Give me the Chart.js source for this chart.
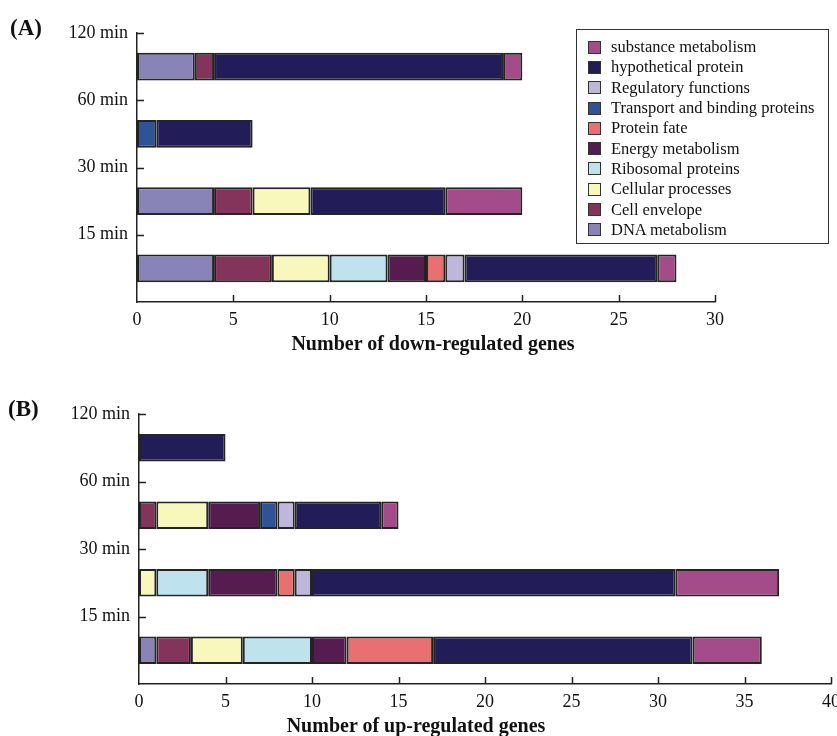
<!DOCTYPE html>
<html>
<head>
<meta charset="utf-8">
<script src="https://cdn.jsdelivr.net/npm/chart.js@4/dist/chart.umd.min.js"></script>
<style>
  html, body { margin: 0; padding: 0; background: #fff; overflow: hidden; }
  #wrap { position: relative; width: 837px; height: 736px; overflow: hidden; font-family: "Liberation Serif", "Times New Roman", serif; color: #111; }
  .pane { position: absolute; left: 0; }
  .panel-tag { position: absolute; font-weight: bold; font-size: 23px; line-height: 1; }
  .axis-title { position: absolute; font-weight: bold; font-size: 20px; line-height: 1; white-space: nowrap; transform: translateX(-50%); }
  #legend { position: absolute; left: 576px; top: 29px; width: 253px; height: 215px; border: 1.5px solid #333; box-sizing: border-box; padding-top: 7px; }
  .lg-row { display: flex; align-items: center; height: 20.3px; padding-left: 11px; font-size: 16.5px; white-space: nowrap; }
  .lg-box { width: 13px; height: 13px; border: 1px solid #333; box-sizing: border-box; margin-right: 10px; flex: none; }
</style>
</head>
<body>
<div id="wrap">
  <div class="pane" style="top:0;width:837px;height:360px"><canvas id="chartA" width="837" height="360"></canvas></div>
  <div class="pane" style="top:380px;width:880px;height:356px"><canvas id="chartB" width="880" height="356"></canvas></div>
  <div class="panel-tag" style="left:10px;top:16px">(A)</div>
  <div class="panel-tag" style="left:8px;top:397px">(B)</div>
  <div class="axis-title" style="left:433px;top:333px">Number of down-regulated genes</div>
  <div class="axis-title" style="left:416px;top:715px">Number of up-regulated genes</div>
  <div id="legend"></div>
</div>
<script>
// Time points, listed top to bottom
const timePoints = ['120 min', '60 min', '30 min', '15 min'];

// Functional categories in stacking order (left to right inside a bar)
const categories = [
  'DNA metabolism',
  'Cell envelope',
  'Cellular processes',
  'Ribosomal proteins',
  'Energy metabolism',
  'Protein fate',
  'Transport and binding proteins',
  'Regulatory functions',
  'hypothetical protein',
  'substance metabolism'
];

const categoryColors = [
  '#8884b8', '#84345a', '#f8f8bc', '#bee3ee', '#561c4f',
  '#e87070', '#2e5396', '#bfb7d9', '#221c58', '#a44c8a'
];

// Down-regulated gene counts per category, values for [120, 60, 30, 15 min]
const downDNA        = [3, 0, 4, 4];
const downEnvelope   = [1, 0, 2, 3];
const downCellular   = [0, 0, 3, 3];
const downRibosomal  = [0, 0, 0, 3];
const downEnergy     = [0, 0, 0, 2];
const downFate       = [0, 0, 0, 1];
const downTransport  = [0, 1, 0, 0];
const downRegulatory = [0, 0, 0, 1];
const downHypo       = [15, 5, 7, 10];
const downSubstance  = [1, 0, 4, 1];

// Up-regulated gene counts per category, values for [120, 60, 30, 15 min]
const upDNA        = [0, 0, 0, 1];
const upEnvelope   = [0, 1, 0, 2];
const upCellular   = [0, 3, 1, 3];
const upRibosomal  = [0, 0, 3, 4];
const upEnergy     = [0, 3, 4, 2];
const upFate       = [0, 0, 1, 5];
const upTransport  = [0, 1, 0, 0];
const upRegulatory = [0, 1, 1, 0];
const upHypo       = [5, 5, 21, 15];
const upSubstance  = [0, 1, 6, 4];

const downSeries = [downDNA, downEnvelope, downCellular, downRibosomal, downEnergy,
                    downFate, downTransport, downRegulatory, downHypo, downSubstance];
const upSeries = [upDNA, upEnvelope, upCellular, upRibosomal, upEnergy,
                  upFate, upTransport, upRegulatory, upHypo, upSubstance];

const xTicksDown = { max: 30, step: 5 };
const xTicksUp = { max: 40, step: 5 };

// Legend, listed in reverse stacking order
const legend = document.getElementById('legend');
for (let i = categories.length - 1; i >= 0; i--) {
  const row = document.createElement('div');
  row.className = 'lg-row';
  const box = document.createElement('span');
  box.className = 'lg-box';
  box.style.background = categoryColors[i];
  const txt = document.createElement('span');
  txt.textContent = categories[i];
  row.appendChild(box);
  row.appendChild(txt);
  legend.appendChild(row);
}

// Tick marks drawn on the inner side of both axes
const inwardTicks = {
  id: 'inwardTicks',
  afterDraw(chart) {
    const { ctx } = chart;
    const xs = chart.scales.x, ys = chart.scales.y;
    const len = 7;
    ctx.save();
    ctx.strokeStyle = '#222';
    ctx.lineWidth = 1.5;
    ctx.beginPath();
    xs.ticks.forEach((t, i) => {
      if (i === 0) return;
      const px = Math.round(xs.getPixelForTick(i)) + 0.5;
      ctx.moveTo(px, ys.bottom);
      ctx.lineTo(px, ys.bottom - len);
    });
    const half = (ys.getPixelForValue(1) - ys.getPixelForValue(0)) / 2;
    timePoints.forEach((_, i) => {
      const py = Math.round(ys.getPixelForValue(i) - half) + 0.5;
      ctx.moveTo(xs.left, py);
      ctx.lineTo(xs.left + len, py);
    });
    ctx.stroke();
    ctx.restore();
  }
};

function buildChart(id, series, xCfg, pad, yWidth, xHeight) {
  const datasets = categories.map((name, i) => ({
    label: name,
    data: series[i].map(v => (v === 0 ? null : v)),
    backgroundColor: categoryColors[i],
    borderColor: '#242424',
    borderWidth: 2,
    borderSkipped: false,
    categoryPercentage: 0.41,
    barPercentage: 1.0
  }));
  const tickFont = { family: '"Liberation Serif", "Times New Roman", serif', size: 18 };
  return new Chart(document.getElementById(id), {
    type: 'bar',
    data: { labels: timePoints, datasets },
    options: {
      indexAxis: 'y',
      responsive: false,
      animation: false,
      layout: { padding: pad },
      plugins: { legend: { display: false }, tooltip: { enabled: false } },
      scales: {
        x: {
          stacked: true,
          min: 0,
          max: xCfg.max,
          grid: { display: false, drawTicks: false },
          border: { display: true, color: '#222', width: 1.5 },
          ticks: { stepSize: xCfg.step, font: tickFont, color: '#111', padding: 7, maxRotation: 0 },
          afterFit(s) { s.height = xHeight; }
        },
        y: {
          stacked: true,
          grid: { display: false, drawTicks: false },
          border: { display: true, color: '#222', width: 1.5 },
          ticks: { font: tickFont, color: '#111', padding: 9 },
          afterFit(s) { s.width = yWidth; },
          afterUpdate(s) {
            s.options.ticks.labelOffset = -(s.getPixelForValue(1) - s.getPixelForValue(0)) / 2;
          }
        }
      }
    },
    plugins: [inwardTicks]
  });
}

buildChart('chartA', downSeries, xTicksDown, { left: 0, top: 33, right: 122, bottom: 0 }, 137, 58);
buildChart('chartB', upSeries, xTicksUp, { left: 0, top: 34, right: 49, bottom: 0 }, 139, 52);
</script>
</body>
</html>
